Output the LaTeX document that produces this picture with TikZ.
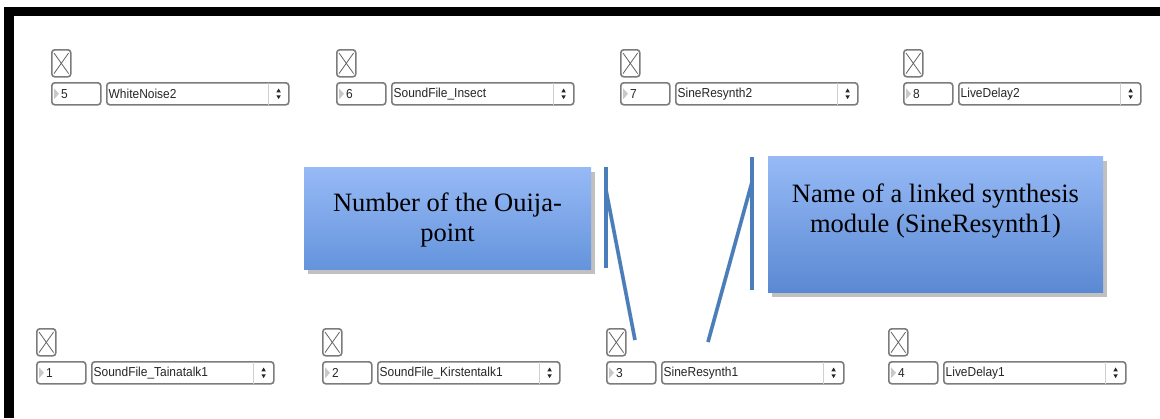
\documentclass[tikz,border=0pt]{standalone}
\usepackage{fontspec}
\setmainfont{Liberation Serif}
\newfontfamily\widgetfont[FakeStretch=0.92]{Liberation Sans}
\usetikzlibrary{shadows}
\definecolor{wgray}{HTML}{7C7C7C}
\definecolor{wtxt}{HTML}{262626}
\definecolor{trigray}{HTML}{C8C8C8}
\definecolor{septgray}{HTML}{D0D0D0}
\definecolor{calltop}{HTML}{97BAF6}
\definecolor{callbot}{HTML}{6494DC}
\definecolor{callbotb}{HTML}{5A89D3}
\definecolor{leader}{HTML}{4A7EBB}
\tikzset{
  wbox/.style={draw=wgray, line width=1.6pt, rounded corners=3pt, fill=white, inner sep=0pt},
  chk/.style={wbox, minimum width=19pt, minimum height=27pt},
  numbox/.style={wbox, minimum width=49pt, minimum height=22pt},
  ddbox/.style={wbox, minimum width=182pt, minimum height=22pt},
  chkx/.style={draw=wgray!80!black, line width=0.8pt},
  wtext/.style={font=\widgetfont\fontsize{13}{15}\selectfont, text=wtxt, inner sep=0pt},
  tri/.style={fill=trigray},
  sepline/.style={draw=septgray, line width=0.8pt},
  updown/.style={fill=wtxt},
  callout/.style={inner sep=0pt, top color=calltop, draw=none,
     drop shadow={shadow xshift=4pt, shadow yshift=-5pt, opacity=0.35, fill=black!70}},
  calltext/.style={font=\fontsize{26.5}{30}\selectfont, align=center, text=black, inner sep=0pt},
  leaderline/.style={draw=leader, line width=3.5pt},
  leadershadow/.style={draw=black, opacity=0.12, line width=4pt},
}
\newcommand\ouijamod[5]{%
  \node[chk, anchor=north west] (cb#1) at (#2,#3) {};
  \draw[chkx] ([shift={(3pt,-4pt)}]cb#1.north west) -- ([shift={(-3pt,4pt)}]cb#1.south east);
  \draw[chkx] ([shift={(-3pt,-4pt)}]cb#1.north east) -- ([shift={(3pt,4pt)}]cb#1.south west);
  \node[numbox, anchor=north west] (nb#1) at (#2,#3+33) {};
  \fill[tri] ([shift={(3pt,5.5pt)}]nb#1.west) -- ++(5pt,-5.5pt) -- ++(-5pt,-5.5pt) -- cycle;
  \node[wtext, anchor=west] (nt#1) at ([xshift=10pt]nb#1.west) {#4};
  \node[ddbox, anchor=north west] (dd#1) at (#2+55,#3+33) {};
  \node[wtext, anchor=west] (dt#1) at ([xshift=2.5pt]dd#1.west) {#5};
  \draw[sepline] ([shift={(-21pt,-1pt)}]dd#1.north east) -- ([shift={(-21pt,1pt)}]dd#1.south east);
  \fill[updown] ([shift={(-11pt,1.5pt)}]dd#1.east) -- ++(2.2pt,0) -- ++(-2.2pt,3.8pt) -- ++(-2.2pt,-3.8pt) -- cycle;
  \fill[updown] ([shift={(-11pt,-1.5pt)}]dd#1.east) -- ++(2.2pt,0) -- ++(-2.2pt,-3.8pt) -- ++(-2.2pt,3.8pt) -- cycle;
}
\begin{document}
\begin{tikzpicture}[x=1pt, y=-1pt]
\useasboundingbox (0,0) rectangle (1160,418);
\fill[white] (0,0) rectangle (1160,418);
% frame
\fill[black] (4,7) rectangle (1160,16);
\fill[black] (4,7) rectangle (14,418);

% top row
\ouijamod{5}{51}{49}{5}{WhiteNoise2}
\ouijamod{6}{336}{49}{6}{SoundFile\_Insect}
\ouijamod{7}{620}{49}{7}{SineResynth2}
\ouijamod{8}{903}{49}{8}{LiveDelay2}
% bottom row
\ouijamod{1}{36}{328}{1}{SoundFile\_Tainatalk1}
\ouijamod{2}{322}{328}{2}{SoundFile\_Kirstentalk1}
\ouijamod{3}{606}{328}{3}{SineResynth1}
\ouijamod{4}{888}{328}{4}{LiveDelay1}

% callout boxes
\node[callout, bottom color=callbot, minimum width=287pt, minimum height=102pt, anchor=north west]
  (box1) at (304,167) {};
\node[calltext, anchor=base] (txt1) at (447.5,241) {Number of the Ouija-\\point};
\node[callout, bottom color=callbotb, minimum width=335pt, minimum height=136pt, anchor=north west]
  (box2) at (768,156) {};
\node[calltext, anchor=base] (txt2) at (935.5,232) {Name of a linked synthesis\\module (SineResynth1)};

% leader lines
\coordinate (l1top) at (606,167);
\coordinate (l1bot) at (606,268);
\coordinate (l1knee) at (606,190);
\coordinate (l1end) at (635,340);
\coordinate (l2top) at (752,157);
\coordinate (l2bot) at (752,290);
\coordinate (l2knee) at (752,182);
\coordinate (l2end) at (708,342);
\begin{scope}[shift={(3pt,-3pt)}]
\draw[leadershadow] (l1top) -- (l1bot);
\draw[leadershadow] (l1knee) -- (l1end);
\draw[leadershadow] (l2top) -- (l2bot);
\draw[leadershadow] (l2knee) -- (l2end);
\end{scope}
\draw[leaderline] (l1top) -- (l1bot);
\draw[leaderline] (l1knee) -- (l1end);
\draw[leaderline] (l2top) -- (l2bot);
\draw[leaderline] (l2knee) -- (l2end);
\end{tikzpicture}
\end{document}
